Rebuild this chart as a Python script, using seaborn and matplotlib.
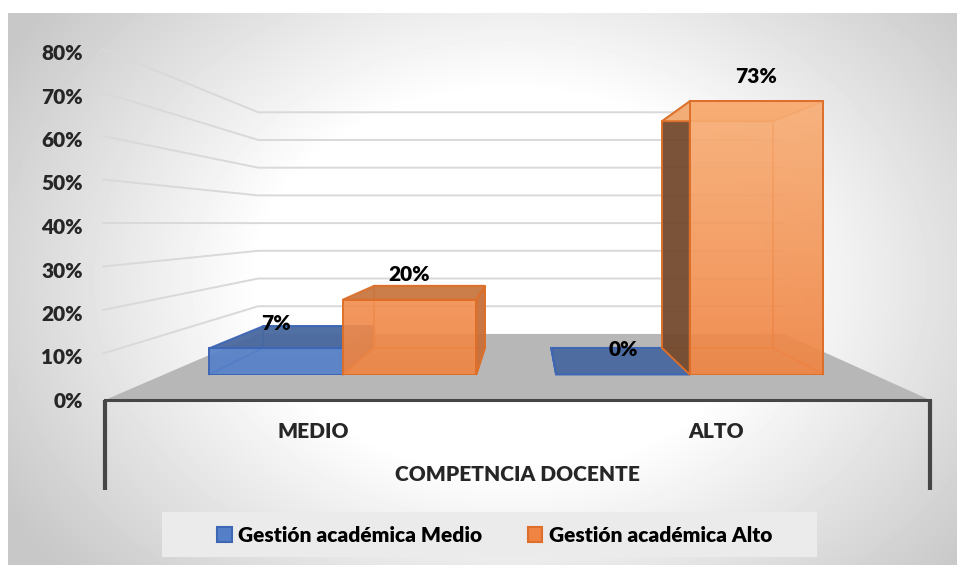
import numpy as np
import pandas as pd
import matplotlib
matplotlib.use("Agg")
import matplotlib.pyplot as plt
from matplotlib.patches import Polygon, Rectangle, Patch
from matplotlib.colors import LinearSegmentedColormap
from matplotlib.ticker import PercentFormatter
import seaborn as sns

# datos del gráfico
categorias = ["MEDIO", "ALTO"]
series = ["Gestión académica Medio", "Gestión académica Alto"]
valores_medio = [0.07, 0.00]
valores_alto = [0.20, 0.73]
ticks_y = [0.0, 0.1, 0.2, 0.3, 0.4, 0.5, 0.6, 0.7, 0.8]
titulo_x = "COMPETNCIA DOCENTE"

df = pd.DataFrame({
    "competencia": categorias * 2,
    "gestion": [series[0]] * 2 + [series[1]] * 2,
    "valor": valores_medio + valores_alto,
})

# colores (frente, tapa, lateral izq, lateral der, borde, frente claro)
col_azul = ["#5580C8", "#48689F", "#3E5C94", "#3E5C94", "#3D66B5", "#6A93D6"]
col_naranja = ["#EF8443", "#C97640", "#734A2E", "#C8703A", "#DD6F2A", "#F9B27A"]
colores = [col_azul, col_naranja]

sns.set_style("white")
plt.rcParams["font.family"] = ["Lato", "DejaVu Sans"]
plt.rcParams["font.weight"] = "heavy"
plt.rcParams["axes.labelweight"] = "heavy"
plt.rcParams["font.size"] = 15
plt.rcParams["text.color"] = "black"

W, H = 957, 565
fig = plt.figure(figsize=(W / 100, H / 100), dpi=100)

# geometría de la perspectiva (en píxeles, y hacia abajo)
VX, VY = 527, 218
FL, FR, F0, F80 = 105, 930, 400, 52
S_BAR, S_WALL, R_FONDO = 0.86, 0.637, 0.83
XLIM = (-0.515, 1.53)


def proj(x, y, s):
    return VX + s * (x - VX), VY + s * (y - VY)


def rect_plano(s):
    x0, y0 = proj(FL, F0, s)
    x1, y1 = proj(FR, F80, s)
    return [x0 / W, 1 - y0 / H, (x1 - x0) / W, (y0 - y1) / H]


# fondo con degradado
bg = fig.add_axes([0, 0, 1, 1])
gx, gy = np.meshgrid(np.arange(8, W), np.arange(13, H))
r = np.hypot((gx - 510) / 560, (gy - 280) / 420)
g = np.clip(255 - (r - 0.45) * 92, 200, 255) / 255
bg.imshow(g, cmap="gray", vmin=0, vmax=1, extent=(8, W, H, 13), aspect="auto",
          interpolation="bilinear", zorder=0)
bg.set_xlim(0, W)
bg.set_ylim(H, 0)
bg.axis("off")

# plano frontal con las etiquetas de los ejes
axl = fig.add_axes(rect_plano(1.0))
axl.set_facecolor("none")
axl.set_xlim(*XLIM)
axl.set_ylim(0, 0.8)
axl.set_xticks([0, 1], categorias)
axl.set_yticks(ticks_y)
axl.yaxis.set_major_formatter(PercentFormatter(1.0, decimals=0))
axl.tick_params(axis="both", length=0)
axl.tick_params(axis="y", pad=16)
axl.tick_params(axis="x", pad=16)
axl.set_xlabel(titulo_x, labelpad=17, fontweight="heavy")
for lado in ["left", "right", "top"]:
    axl.spines[lado].set_visible(False)
axl.spines["bottom"].set_color("#464646")
axl.spines["bottom"].set_linewidth(2.2)
axl.grid(False)

# líneas de cuadrícula (pared lateral y pared del fondo)
to_bg = axl.transData + bg.transData.inverted()
for v in ticks_y[1:]:
    _, yv = to_bg.transform((XLIM[0], v))
    p_front = (FL - 2, yv - 3)
    p_back_l = proj(FL, yv, S_WALL)
    p_back_r = proj(FR, yv, S_WALL)
    bg.plot([p_front[0], p_back_l[0], p_back_r[0]], [p_front[1], p_back_l[1], p_back_r[1]],
            color="#D9D9D9", lw=1.4, zorder=1)

# piso
piso = [(FL, F0), (FR, F0), proj(FR, F0, S_WALL), proj(FL, F0, S_WALL)]
bg.add_patch(Polygon(piso, closed=True, facecolor="#B7B7B7", edgecolor="none", zorder=2))
bg.plot([FL, FL], [F0, 490], color="#464646", lw=3, zorder=3, solid_capstyle="butt")
bg.plot([FR, FR], [F0, 490], color="#464646", lw=3, zorder=3, solid_capstyle="butt")

# caja de la leyenda
bg.add_patch(Rectangle((162, 512), 655, 45, facecolor="#EBEBEB", edgecolor="none", zorder=2))

# barras
axb = fig.add_axes(rect_plano(S_BAR))
axb.set_facecolor("none")
sns.barplot(data=df, x="competencia", y="valor", hue="gestion",
            palette=[col_azul[0], col_naranja[0]], width=0.77, saturation=1,
            legend=False, ax=axb)
axb.set_xlim(*XLIM)
axb.set_ylim(0, 0.8)
axb.axis("off")


def serie_de(p):
    return 0 if matplotlib.colors.to_hex(p.get_facecolor()) == col_azul[0].lower() else 1


to_px = axb.transData + bg.transData.inverted()
barras = sorted(axb.patches, key=lambda p: (serie_de(p), p.get_x()))
for i, p in enumerate(barras):
    c = colores[serie_de(p)]
    z = 1 + i * 0.1
    x0, w, h = p.get_x(), p.get_width(), p.get_height()
    fr = to_px.transform([(x0, 0), (x0 + w, 0), (x0 + w, h), (x0, h)])
    bk = [(VX + R_FONDO * (x - VX), VY + R_FONDO * (y - VY)) for x, y in fr]
    kw = dict(transform=bg.transData, clip_on=False)
    # aristas ocultas
    axb.add_patch(Polygon(bk, closed=True, fill=False, edgecolor=c[4], lw=1.2, zorder=z, **kw))
    for a in (0, 1):
        axb.plot([fr[a][0], bk[a][0]], [fr[a][1], bk[a][1]], color=c[4], lw=1.2, zorder=z, **kw)
    # laterales
    if fr[0][0] > VX:
        axb.add_patch(Polygon([fr[0], fr[3], bk[3], bk[0]], closed=True, facecolor=c[2],
                              edgecolor=c[4], lw=1.4, alpha=0.95, zorder=z + 0.01, **kw))
    if fr[1][0] < VX:
        axb.add_patch(Polygon([fr[1], fr[2], bk[2], bk[1]], closed=True, facecolor=c[3],
                              edgecolor=c[4], lw=1.4, alpha=0.95, zorder=z + 0.01, **kw))
    # tapa
    tapa = c[1] if fr[3][1] > VY else c[5]
    axb.add_patch(Polygon([fr[3], fr[2], bk[2], bk[3]], closed=True, facecolor=tapa,
                          edgecolor=c[4], lw=1.4, alpha=0.95, zorder=z + 0.02, **kw))
    # frente con degradado vertical
    if h > 0:
        cmap = LinearSegmentedColormap.from_list("f", [c[0], c[5]])
        img = axb.imshow(np.linspace(0, 1, 100)[::-1, None], cmap=cmap, vmin=0, vmax=1,
                         extent=(x0, x0 + w, 0, 0.8), aspect="auto", alpha=0.92,
                         zorder=z + 0.04)
        img.set_clip_path(p)
    p.set_facecolor("none")
    p.set_edgecolor(c[4])
    p.set_linewidth(1.4)
    p.set_zorder(z + 0.05)
    axb.annotate(f"{h:.0%}", (x0 + w / 2, h), xytext=(0, 25), textcoords="offset pixels",
                 ha="center", va="center", zorder=10)

axb.set_xlim(*XLIM)
axb.set_ylim(0, 0.8)

# leyenda
handles = [Patch(facecolor=colores[k][0], edgecolor=colores[k][4], lw=1.5) for k in range(2)]
fig.legend(handles, series, loc="center", bbox_to_anchor=(494.5 / W, 1 - 535 / H), ncol=2,
           frameon=False, handlelength=0.7, handleheight=0.7, handletextpad=0.3,
           columnspacing=2.2, fontsize=15)

fig.savefig("out.png", dpi=100)
